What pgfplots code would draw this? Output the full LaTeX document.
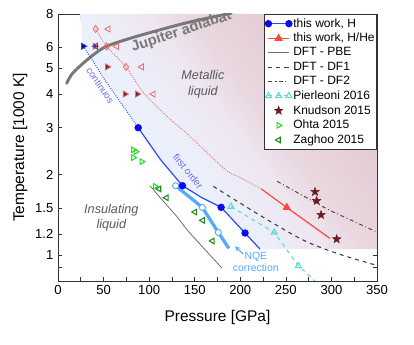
\documentclass[border=0pt]{standalone}
\usepackage{fontspec}
\setmainfont{Liberation Sans}
\usepackage{pgfplots}
\pgfplotsset{compat=1.18}

\definecolor{hblue}{RGB}{45,75,235}
\definecolor{hmark}{RGB}{10,10,235}
\definecolor{nqe}{RGB}{80,170,255}
\definecolor{hered}{RGB}{245,75,60}
\definecolor{hedot}{RGB}{240,105,95}
\definecolor{mkred}{RGB}{235,105,95}
\definecolor{mkfill}{RGB}{120,40,40}
\definecolor{starcol}{RGB}{110,28,32}
\definecolor{pier}{RGB}{95,215,215}
\definecolor{ohta}{RGB}{40,220,40}
\definecolor{zagh}{RGB}{30,140,30}
\definecolor{pbe}{RGB}{110,110,110}
\definecolor{dfone}{RGB}{60,60,60}
\definecolor{dftwo}{RGB}{70,70,70}
\definecolor{jup}{RGB}{120,120,120}
\definecolor{txtblue}{RGB}{110,110,235}
\definecolor{shpink}{RGB}{226,198,210}
\definecolor{shpinkb}{RGB}{233,215,224}
\definecolor{shmid}{RGB}{238,230,240}
\definecolor{shblue}{RGB}{235,240,252}

% background gradient, blue near the transition line, pink far from it
\pgfdeclarehorizontalshading{bgshade}{100bp}{%
  color(0bp)=(shblue); color(41bp)=(shblue); color(51bp)=(shmid);
  color(57bp)=(shpinkb); color(75bp)=(shpink); color(100bp)=(shpink)}

% filled five point star
\pgfdeclareplotmark{fstar}{%
  \pgfpathmoveto{\pgfpointpolar{90}{\pgfplotmarksize}}%
  \pgfpathlineto{\pgfpointpolar{126}{0.42\pgfplotmarksize}}%
  \pgfpathlineto{\pgfpointpolar{162}{\pgfplotmarksize}}%
  \pgfpathlineto{\pgfpointpolar{198}{0.42\pgfplotmarksize}}%
  \pgfpathlineto{\pgfpointpolar{234}{\pgfplotmarksize}}%
  \pgfpathlineto{\pgfpointpolar{270}{0.42\pgfplotmarksize}}%
  \pgfpathlineto{\pgfpointpolar{306}{\pgfplotmarksize}}%
  \pgfpathlineto{\pgfpointpolar{342}{0.42\pgfplotmarksize}}%
  \pgfpathlineto{\pgfpointpolar{18}{\pgfplotmarksize}}%
  \pgfpathlineto{\pgfpointpolar{54}{0.42\pgfplotmarksize}}%
  \pgfpathclose
  \pgfusepathqfillstroke}

\begin{document}
\begin{tikzpicture}
\begin{axis}[
    at={(0,0)}, anchor=south west,
    scale only axis,
    width=239.25pt, height=200.25pt,
    xmin=0, xmax=350,
    ymode=log, ymin=0.8, ymax=8,
    xtick={0,50,...,350},
    minor xtick={25,75,...,325},
    ytick={1,1.2,1.5,2,3,4,5,6,8},
    yticklabels={1,1.2,1.5,2,3,4,5,6,8},
    minor ytick={0.9},
    tick align=inside,
    major tick length=3pt, minor tick length=3pt,
    tick style={black!80, line width=0.5pt},
    axis line style={black!80, line width=0.7pt},
    ticklabel style={font=\fontsize{9.8}{11}\selectfont},
    /pgf/number format/assume math mode=true,
    xlabel={Pressure [GPa]},
    ylabel={Temperature [1000 K]},
    label style={font=\fontsize{11.6}{13}\selectfont},
    xlabel style={at={(axis description cs:0.5,-0.135)}, anchor=center},
    ylabel style={at={(axis description cs:-0.119,0.5)}, anchor=center},
    legend image code/.code={%
        \draw[mark repeat=2, mark phase=2, #1]
        plot coordinates {(0cm,0cm) (0.27cm,0cm) (0.54cm,0cm)};},
    legend style={
        at={(1,1)}, anchor=north east,
        font=\fontsize{9}{10.5}\selectfont,
        draw=black!80, line width=0.5pt, fill=white,
        inner xsep=0.5pt, inner ysep=1pt,
        row sep=-1pt,
        nodes={inner xsep=1pt},
        cells={anchor=west}
    },
]

% background region
\addplot[draw=none, forget plot, shading=bgshade, shading angle=37]
coordinates {
    (24,8) (27.8,6.06) (52,4.5) (88,3.0) (112,2.29) (136.5,1.82) (158,1.64)
    (179,1.51) (205.2,1.21) (221.6,1.053) (350,1.053) (350,8)
} -- cycle;

% Jupiter adiabat
\addplot[jup, line width=2.2pt, smooth, line cap=round, forget plot]
coordinates {
    (9.5,4.4) (15,4.75) (24,5.1) (38,5.6) (53,6.05) (80,6.5) (110,6.95)
    (140,7.4) (170,7.8) (190,8.05)
};

% continuous part and H/He dotted part
\addplot[hblue, densely dotted, line width=0.7pt, forget plot]
coordinates {(27.8,6.06) (52,4.5) (88,3.0)};
\addplot[hedot, densely dotted, line width=0.7pt, smooth, forget plot]
coordinates {
    (41.3,7.03) (53.4,6.05) (74.6,5.07) (93.6,4.07) (120,3.3) (145,2.78)
    (183,2.1) (200,1.95) (223,1.77)
};

% NQE corrected line
\addplot[nqe, line width=2.4pt, forget plot]
coordinates {(129,1.82) (158.4,1.508) (175.9,1.216) (187.5,1.06)};
\addplot[nqe, only marks, mark=*, mark size=2.3pt, mark options={fill=white, line width=0.7pt}, forget plot]
coordinates {(129,1.82) (158.4,1.508) (175.9,1.216)};

% markers of earlier H/He and H points near the top
\addplot[mkred, only marks, mark=diamond, mark size=2.6pt, line width=0.6pt, forget plot]
coordinates {(41.3,7.03) (53.4,6.05) (74.6,5.07)};
\addplot[mkred, only marks, mark=triangle, mark size=2.6pt, mark options={rotate=90}, line width=0.6pt, forget plot]
coordinates {(55.2,7.03) (64.4,6.05) (91.8,5.07) (104.6,4.01)};
\addplot[mkred, only marks, mark=triangle*, mark size=2.6pt, mark options={rotate=-90, fill=mkfill}, line width=0.6pt, forget plot]
coordinates {(40.6,6.06) (54.1,5.07) (73.5,4.01) (87,4.01)};
\addplot[hblue, only marks, mark=triangle, mark size=2.6pt, mark options={rotate=90}, line width=0.6pt, forget plot]
coordinates {(41.4,6.06)};
\addplot[hblue, only marks, mark=triangle*, mark size=2.6pt, mark options={rotate=-90, fill=blue!45!black}, line width=0.6pt, forget plot]
coordinates {(27.8,6.06)};

% legend series
\addplot[hblue, line width=0.9pt, mark=*, mark size=2.3pt, mark indices={1,3,5,6}, mark options={hmark}]
coordinates {
    (88,3.0) (112,2.29) (136.5,1.82) (158,1.64) (179,1.51) (205.2,1.21) (221.6,1.053)
};
\addlegendentry{this work, H}

\addplot[hered, line width=0.9pt, mark=triangle*, mark size=2.8pt, mark indices={2}]
coordinates {(223,1.77) (251,1.508) (298.4,1.155)};
\addlegendentry{this work, H/He}

\addplot[pbe, line width=0.6pt, smooth]
coordinates {(100.9,1.82) (115,1.6) (130,1.40) (142,1.24) (155.8,1.10) (168,0.99) (180,0.894)};
\addlegendentry{DFT - PBE}

\addplot[dfone, line width=0.8pt, dashed, smooth]
coordinates {(170.4,1.81) (198,1.58) (234,1.33) (271,1.13) (308,1.01) (350,0.915)};
\addlegendentry{DFT - DF1}

\addplot[dftwo, line width=0.7pt, dash dot, smooth]
coordinates {(240.5,1.89) (292,1.51) (322,1.35) (350,1.22)};
\addlegendentry{DFT - DF2}

\addplot[pier, line width=0.8pt, dashed, mark=triangle, mark size=2.6pt, mark indices={1,2,3}, mark options={solid}]
coordinates {(189.8,1.52) (237.3,1.216) (263.7,0.912) (282,0.80)};
\addlegendentry{Pierleoni 2016}

\addplot[starcol, only marks, mark=fstar, mark size=3.4pt, mark options={line width=0.3pt}]
coordinates {(282,1.726) (283.8,1.597) (288.6,1.415) (305.8,1.148)};
\addlegendentry{Knudson 2015}

\addplot[ohta, only marks, mark=triangle, mark size=2.4pt, mark options={rotate=-90}, line width=0.8pt]
coordinates {(82.6,2.48) (85.3,2.44) (82.6,2.32) (91.8,2.24) (106.4,1.81)};
\addlegendentry{Ohta 2015}

\addplot[zagh, only marks, mark=triangle, mark size=2.4pt, mark options={rotate=90}, line width=0.8pt]
coordinates {(111,1.77) (119,1.64) (150.3,1.45) (158.8,1.35) (169.5,1.13)};
\addlegendentry{Zaghoo 2015}

% annotations
\node[rotate=18.4, text=jup, font=\fontsize{11}{13}\selectfont\bfseries] at (axis cs:135.5,6.86) {Jupiter adiabat};
\node[align=center, text=black!65, font=\fontsize{9.5}{12.5}\selectfont\itshape] at (axis cs:159,4.37) {Metallic\\liquid};
\node[align=center, text=black!65, font=\fontsize{9.5}{11.3}\selectfont\itshape] at (axis cs:58.5,1.385) {Insulating\\liquid};
\node[rotate=-55.6, text=txtblue, font=\fontsize{7.2}{8}\selectfont] at (axis cs:46.4,4.32) {continuos};
\node[rotate=-51.3, text=txtblue, font=\fontsize{7.4}{8}\selectfont] at (axis cs:142.6,2.06) {first order};
\node[align=center, text=nqe, font=\fontsize{7.8}{9}\selectfont] at (axis cs:217,0.94) {NQE\\correction};
\draw[nqe, line width=0.8pt, -stealth] (axis cs:203.4,1.009) -- (axis cs:194.2,1.078);

\end{axis}
\pgfresetboundingbox
\path[use as bounding box] (-43.5pt,-48pt) rectangle (267pt,210.75pt);
\end{tikzpicture}
\end{document}
